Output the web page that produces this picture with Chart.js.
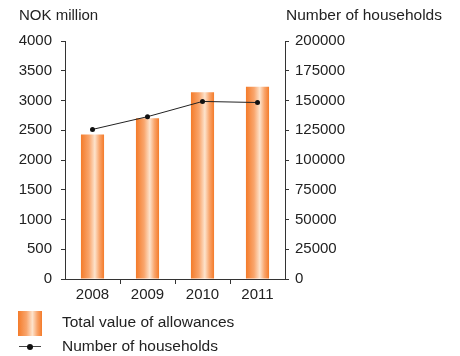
<!DOCTYPE html>
<html>
<head>
<meta charset="utf-8">
<script src="https://cdn.jsdelivr.net/npm/chart.js@4.4.1/dist/chart.umd.min.js"></script>
<style>
  body { margin: 0; background: #fff; font-family: 'Liberation Sans', Arial, sans-serif; color: #222; }
  #wrap { position: relative; width: 460px; height: 356px; }
  #wrap canvas { position: absolute; left: 0; top: 0; }
  .lbl { position: absolute; font-size: 15.5px; white-space: nowrap; }
  .swatch { position: absolute; left: 18px; top: 311px; width: 24px; height: 25px;
    background: linear-gradient(to right, #f47b2a, #f9a56c 35%, #fde3cc 60%, #f9a56c 80%, #f47b2a); }
  .lineKey { position: absolute; left: 19px; top: 346px; width: 22px; height: 1px; background: #444; }
  .dotKey { position: absolute; left: 27px; top: 344px; width: 6px; height: 6px; border-radius: 50%; background: #111; }
</style>
</head>
<body>
<div id="wrap">
  <canvas id="chart" width="460" height="356"></canvas>
  <div class="lbl" style="left:19px;top:6px;font-size:15px">NOK million</div>
  <div class="lbl" style="left:286px;top:6px">Number of households</div>
  <div class="swatch"></div>
  <div class="lbl" style="left:62px;top:313px">Total value of allowances</div>
  <div class="lineKey"></div>
  <div class="dotKey"></div>
  <div class="lbl" style="left:62px;top:337px">Number of households</div>
</div>
<script>
const years = ['2008', '2009', '2010', '2011']
const allowances = [2430, 2700, 3140, 3230]   // NOK million
const households = [125700, 136400, 149200, 148300]

const barPct = 0.42

function barGradient(ctx) {
  const chart = ctx.chart
  const xs = chart.scales.x
  if (!xs || ctx.dataIndex === undefined) return '#f7a060'
  const cx = xs.getPixelForValue(ctx.dataIndex)
  const half = xs.width / years.length * barPct / 2
  if (!isFinite(cx) || !isFinite(half) || half <= 0) return '#f7a060'
  const g = chart.ctx.createLinearGradient(cx - half, 0, cx + half, 0)
  g.addColorStop(0, '#f47b2a')
  g.addColorStop(0.35, '#f9a56c')
  g.addColorStop(0.6, '#fde3cc')
  g.addColorStop(0.8, '#f9a56c')
  g.addColorStop(1, '#f47b2a')
  return g
}

Chart.defaults.font.family = "'Liberation Sans', Arial, sans-serif"
Chart.defaults.font.size = 15
Chart.defaults.color = '#222'

new Chart(document.getElementById('chart'), {
  data: {
    labels: years,
    datasets: [
      {
        type: 'line',
        label: 'Number of households',
        data: households,
        yAxisID: 'y2',
        borderColor: '#222',
        borderWidth: 1,
        pointRadius: 2.5,
        pointBackgroundColor: '#111',
        pointBorderWidth: 0,
        order: 0
      },
      {
        type: 'bar',
        label: 'Total value of allowances',
        data: allowances,
        yAxisID: 'y',
        backgroundColor: barGradient,
        barPercentage: barPct,
        categoryPercentage: 1,
        order: 1
      }
    ]
  },
  options: {
    responsive: false,
    animation: false,
    layout: { padding: { left: 0, top: 41, right: 75, bottom: 52 } },
    plugins: { legend: { display: false }, tooltip: { enabled: false } },
    scales: {
      x: {
        offset: true,
        border: { color: '#333', width: 1 },
        grid: {
          offset: true,
          drawOnChartArea: false,
          tickLength: 5,
          color: ctx => (ctx.index === 0 || ctx.index === undefined) ? 'rgba(0,0,0,0)' : '#333'
        },
        ticks: { padding: 2, maxRotation: 0 },
        afterFit: s => { s.height = 25 }
      },
      y: {
        position: 'left',
        min: 0,
        max: 4000,
        border: { color: '#333', width: 1 },
        grid: { drawOnChartArea: false, tickLength: 4, color: '#333' },
        ticks: { stepSize: 500, padding: 9, callback: v => String(v) },
        afterFit: s => { s.width = 65 }
      },
      y2: {
        position: 'right',
        min: 0,
        max: 200000,
        border: { color: '#333', width: 1 },
        grid: { drawOnChartArea: false, tickLength: 4, color: '#333' },
        ticks: { stepSize: 25000, padding: 6, callback: v => String(v) },
        afterFit: s => { s.width = 100 }
      }
    }
  }
})
</script>
</body>
</html>
